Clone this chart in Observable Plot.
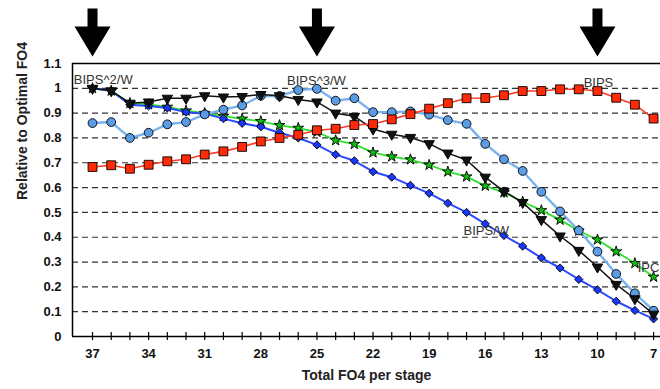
<!DOCTYPE html>
<html><head><meta charset="utf-8">
<script src="https://cdn.jsdelivr.net/npm/d3@7"></script>
<script src="https://cdn.jsdelivr.net/npm/@observablehq/plot@0.6"></script>
<style>body{margin:0;background:#fff} svg{display:block}</style>
</head><body><div id="chart"></div>
<script>
// Total FO4 per stage
const fo4 = [37,36,35,34,33,32,31,30,29,28,27,26,25,24,23,22,21,20,19,18,17,16,15,14,13,12,11,10,9,8,7];
// Series (relative to optimal FO4)
const bips   = [0.683,0.690,0.676,0.692,0.706,0.714,0.733,0.746,0.764,0.786,0.800,0.813,0.831,0.837,0.852,0.856,0.875,0.896,0.918,0.940,0.960,0.961,0.972,0.989,0.989,0.996,0.996,0.989,0.962,0.934,0.878];
const bips3w = [0.860,0.864,0.800,0.821,0.855,0.864,0.895,0.914,0.931,0.970,0.969,0.993,0.998,0.950,0.960,0.904,0.904,0.907,0.894,0.872,0.857,0.776,0.714,0.667,0.583,0.504,0.427,0.342,0.252,0.174,0.104];
const bips2w = [1.000,0.990,0.940,0.945,0.960,0.960,0.970,0.965,0.967,0.975,0.970,0.955,0.945,0.900,0.887,0.836,0.815,0.802,0.777,0.739,0.711,0.642,0.585,0.540,0.471,0.405,0.347,0.280,0.210,0.152,0.090];
const ipc    = [1.000,0.990,0.940,0.935,0.925,0.910,0.900,0.888,0.877,0.867,0.851,0.840,0.824,0.790,0.775,0.741,0.725,0.713,0.691,0.664,0.644,0.607,0.580,0.543,0.508,0.470,0.426,0.390,0.342,0.295,0.240];
const bipsw  = [1.000,0.990,0.934,0.929,0.921,0.904,0.898,0.878,0.859,0.845,0.821,0.800,0.772,0.733,0.708,0.664,0.642,0.609,0.577,0.537,0.500,0.454,0.407,0.364,0.317,0.276,0.230,0.188,0.142,0.105,0.071];
// Axis ticks
const xTicks = [37,34,31,28,25,22,19,16,13,10,7];
const yTicks = [0,0.1,0.2,0.3,0.4,0.5,0.6,0.7,0.8,0.9,1,1.1];
const gridY  = [0.1,0.2,0.3,0.4,0.5,0.6,0.7,0.8,0.9,1];
// Arrow markers (FO4 positions highlighted)
const arrowsAt = [37,25,10];
// Series labels
const labelText = ["BIPS^2/W","BIPS^3/W","BIPS","BIPS/W","IPC"];
const labelX    = [38.0, 26.6, 10.74, 17.16, 7.85];
const labelY    = [1.036, 1.032, 1.024, 0.427, 0.278];

const xDomain = [38.07, 6.63];
const yDomain = [0, 1.1];

const series = [
  {values: ipc,    line:"#2fe02f", fill:"#0fbf0f", symbol:"star",     r:3.4, rotate:0,   lw:1.8},
  {values: bipsw,  line:"#2a48ff", fill:"#1838ff", symbol:"diamond2", r:3.7, rotate:0,   lw:2},
  {values: bips3w, line:"#78b2f0", fill:"#5b9de4", symbol:"circle",   r:4.4, rotate:0,   lw:2.4},
  {values: bips2w, line:"#111111", fill:"#111111", symbol:"triangle", r:3.9, rotate:180, lw:1.5},
  {values: bips,   line:"#ff3a22", fill:"#ff2a08", symbol:"square",   r:5.0, rotate:0,   lw:1.6}
];
const rowsOf = s => fo4.map((f, i) => ({fo4: f, v: s.values[i]}));

const arrowSymbol = {draw(ctx) {
  ctx.moveTo(-5, -24); ctx.lineTo(5, -24); ctx.lineTo(5, -6); ctx.lineTo(18, -6);
  ctx.lineTo(0, 24); ctx.lineTo(-18, -6); ctx.lineTo(-5, -6); ctx.closePath();
}};

const labels = labelText.map((t, i) => ({t, x: labelX[i], y: labelY[i]}));

const marks = [
  Plot.ruleY(gridY, {stroke: "#333", strokeWidth: 1.2, strokeDasharray: "6,4"}),
  Plot.ruleY([yDomain[0], yDomain[1]], {stroke: "black", strokeWidth: 1.5}),
  Plot.ruleX([xDomain[0]], {stroke: "black", strokeWidth: 1.5}),
  Plot.ruleX(fo4, {x: d => d, y1: 0, y2: 0, insetTop: -4, insetBottom: -4, stroke: "black", strokeWidth: 1.2}),
  Plot.axisX(xTicks, {tickSize: 0, tickPadding: 12, label: null, fontSize: 13, fontWeight: "bold"}),
  Plot.axisY(yTicks, {tickSize: 0, tickPadding: 11, label: null, tickFormat: d => String(d), fontSize: 13, fontWeight: "bold"}),
  ...series.map(s => Plot.line(rowsOf(s), {x: "fo4", y: "v", stroke: s.line, strokeWidth: s.lw})),
  ...series.map(s => Plot.dot(rowsOf(s), {x: "fo4", y: "v", symbol: s.symbol, r: s.r, rotate: s.rotate, fill: s.fill, stroke: "black", strokeWidth: 0.9})),
  Plot.text(labels, {x: "x", y: "y", text: "t", textAnchor: "start", fontSize: 13, fill: "#333"}),
  Plot.dot(arrowsAt, {x: d => d, frameAnchor: "top", dy: -31, symbol: arrowSymbol, fill: "black", stroke: "none"}),
  Plot.text(["Total FO4 per stage"], {frameAnchor: "bottom", dy: 43, text: d => d, fontSize: 14, fontWeight: "bold", fill: "#222"}),
  Plot.text(["Relative to Optimal FO4"], {frameAnchor: "left", dx: -50, rotate: -90, text: d => d, fontSize: 14, fontWeight: "bold", fill: "#222"})
];

const chart = Plot.plot({
  width: 660, height: 389,
  marginLeft: 72, marginRight: 0, marginTop: 63, marginBottom: 53,
  style: {fontFamily: "'Liberation Sans', Arial, sans-serif", background: "#fff", color: "#111"},
  x: {domain: xDomain},
  y: {domain: yDomain},
  marks
});
document.getElementById("chart").appendChild(chart);
</script>
</body></html>
